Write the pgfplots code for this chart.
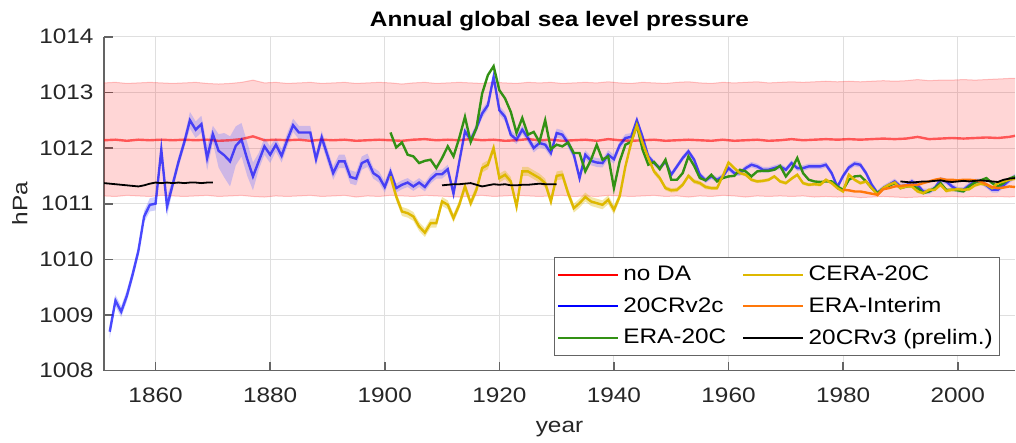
\documentclass[border=0pt]{standalone}
\usepackage{fontspec}
\setmainfont{Liberation Sans}[FakeStretch=1.16]
\usepackage{pgfplots}
\usepackage{pgfplotstable}
\pgfplotsset{compat=1.18}
\usepgfplotslibrary{fillbetween}
\newcommand{\fs}{\fontsize{10.5}{12.6}\selectfont}
\definecolor{axgray}{RGB}{100,100,100}
\definecolor{txtgray}{RGB}{38,38,38}
\definecolor{gridgray}{RGB}{223,223,223}
\definecolor{cgreen}{RGB}{50,145,20}
\definecolor{cyellow}{RGB}{222,184,0}
\definecolor{corange}{RGB}{255,120,10}

% no DA: mean and band
\pgfplotstableread{
year mean lo hi
1851 1012.14 1011.14 1013.17
1853 1012.15 1011.13 1013.18
1855 1012.13 1011.15 1013.16
1857 1012.15 1011.14 1013.17
1859 1012.14 1011.13 1013.18
1861 1012.15 1011.15 1013.17
1863 1012.14 1011.14 1013.16
1865 1012.15 1011.13 1013.17
1867 1012.14 1011.14 1013.18
1869 1012.15 1011.15 1013.16
1871 1012.13 1011.13 1013.15
1873 1012.14 1011.14 1013.16
1875 1012.16 1011.15 1013.18
1877 1012.21 1011.13 1013.22
1879 1012.14 1011.12 1013.17
1881 1012.15 1011.14 1013.18
1883 1012.14 1011.13 1013.16
1885 1012.15 1011.14 1013.17
1887 1012.13 1011.15 1013.18
1889 1012.15 1011.13 1013.16
1891 1012.14 1011.14 1013.17
1893 1012.15 1011.15 1013.18
1895 1012.13 1011.12 1013.16
1897 1012.14 1011.14 1013.17
1899 1012.15 1011.13 1013.18
1901 1012.14 1011.15 1013.17
1903 1012.13 1011.14 1013.15
1905 1012.15 1011.13 1013.17
1907 1012.16 1011.15 1013.18
1909 1012.14 1011.14 1013.16
1911 1012.15 1011.13 1013.17
1913 1012.14 1011.12 1013.18
1915 1012.16 1011.14 1013.17
1917 1012.14 1011.15 1013.16
1919 1012.15 1011.13 1013.18
1921 1012.13 1011.14 1013.17
1923 1012.14 1011.15 1013.16
1925 1012.16 1011.14 1013.18
1927 1012.14 1011.13 1013.17
1929 1012.15 1011.14 1013.18
1931 1012.13 1011.15 1013.16
1933 1012.14 1011.13 1013.17
1935 1012.15 1011.14 1013.18
1937 1012.13 1011.13 1013.17
1939 1012.16 1011.15 1013.19
1941 1012.14 1011.14 1013.17
1943 1012.13 1011.13 1013.16
1945 1012.14 1011.14 1013.18
1947 1012.15 1011.15 1013.17
1949 1012.13 1011.13 1013.16
1951 1012.14 1011.14 1013.18
1953 1012.15 1011.12 1013.19
1955 1012.14 1011.14 1013.17
1957 1012.13 1011.13 1013.16
1959 1012.15 1011.15 1013.18
1961 1012.13 1011.14 1013.17
1963 1012.14 1011.12 1013.18
1965 1012.15 1011.14 1013.19
1967 1012.13 1011.13 1013.17
1969 1012.14 1011.14 1013.18
1971 1012.16 1011.13 1013.19
1973 1012.14 1011.14 1013.18
1975 1012.15 1011.12 1013.19
1977 1012.16 1011.13 1013.20
1979 1012.15 1011.12 1013.19
1981 1012.16 1011.13 1013.20
1983 1012.15 1011.11 1013.19
1985 1012.16 1011.12 1013.20
1987 1012.17 1011.13 1013.21
1989 1012.16 1011.12 1013.20
1991 1012.17 1011.11 1013.21
1993 1012.20 1011.12 1013.23
1995 1012.16 1011.13 1013.21
1997 1012.17 1011.12 1013.22
1999 1012.18 1011.13 1013.22
2001 1012.17 1011.12 1013.23
2003 1012.18 1011.13 1013.22
2005 1012.19 1011.12 1013.23
2007 1012.18 1011.13 1013.24
2009 1012.20 1011.12 1013.25
2010 1012.22 1011.13 1013.25
}\tnoda

% 20CRv2c: value and ensemble spread
\pgfplotstableread{
year v s
1852 1008.70 0.12
1853 1009.26 0.10
1854 1009.06 0.10
1855 1009.35 0.10
1856 1009.73 0.10
1857 1010.15 0.10
1858 1010.77 0.10
1859 1010.98 0.12
1860 1011.00 0.12
1861 1011.97 0.20
1862 1010.95 0.18
1863 1011.35 0.10
1864 1011.75 0.10
1865 1012.10 0.10
1866 1012.50 0.15
1867 1012.33 0.15
1868 1012.43 0.15
1869 1011.82 0.22
1870 1012.25 0.15
1871 1011.95 0.30
1872 1011.87 0.40
1873 1011.76 0.45
1874 1012.04 0.35
1875 1012.15 0.30
1876 1011.80 0.30
1877 1011.49 0.25
1878 1011.76 0.15
1879 1012.03 0.15
1880 1011.88 0.15
1881 1012.06 0.12
1882 1011.86 0.12
1883 1012.15 0.12
1884 1012.41 0.12
1885 1012.28 0.12
1886 1012.28 0.12
1887 1012.28 0.12
1888 1011.80 0.12
1889 1012.19 0.12
1890 1011.87 0.12
1891 1011.55 0.12
1892 1011.76 0.12
1893 1011.76 0.12
1894 1011.48 0.12
1895 1011.45 0.12
1896 1011.73 0.12
1897 1011.78 0.12
1898 1011.55 0.10
1899 1011.48 0.10
1900 1011.30 0.10
1901 1011.57 0.10
1902 1011.28 0.08
1903 1011.34 0.08
1904 1011.38 0.08
1905 1011.31 0.08
1906 1011.38 0.08
1907 1011.30 0.08
1908 1011.44 0.08
1909 1011.53 0.08
1910 1011.53 0.08
1911 1011.62 0.08
1912 1011.18 0.08
1913 1011.75 0.08
1914 1012.30 0.08
1915 1012.15 0.08
1916 1012.36 0.08
1917 1012.62 0.08
1918 1012.77 0.08
1919 1013.28 0.08
1920 1012.68 0.08
1921 1012.56 0.08
1922 1012.24 0.08
1923 1012.15 0.08
1924 1012.33 0.08
1925 1012.18 0.08
1926 1012.00 0.08
1927 1012.09 0.08
1928 1012.06 0.08
1929 1011.91 0.08
1930 1012.27 0.08
1931 1012.24 0.08
1932 1012.09 0.08
1933 1011.88 0.08
1934 1011.46 0.08
1935 1011.88 0.08
1936 1011.77 0.08
1937 1011.74 0.08
1938 1011.73 0.08
1939 1011.88 0.08
1940 1011.80 0.08
1941 1012.05 0.07
1942 1012.18 0.07
1943 1012.20 0.07
1944 1012.50 0.07
1945 1012.20 0.06
1946 1011.85 0.06
1947 1011.73 0.05
1948 1011.64 0.05
1949 1011.76 0.05
1950 1011.52 0.05
1951 1011.67 0.05
1952 1011.82 0.05
1953 1011.94 0.05
1954 1011.79 0.05
1955 1011.52 0.05
1956 1011.42 0.05
1957 1011.49 0.05
1958 1011.43 0.05
1959 1011.49 0.05
1960 1011.64 0.05
1961 1011.55 0.05
1962 1011.55 0.05
1963 1011.64 0.05
1964 1011.70 0.05
1965 1011.67 0.05
1966 1011.61 0.05
1967 1011.61 0.05
1968 1011.64 0.05
1969 1011.67 0.05
1970 1011.61 0.05
1971 1011.73 0.05
1972 1011.64 0.05
1973 1011.64 0.05
1974 1011.67 0.05
1975 1011.67 0.05
1976 1011.67 0.05
1977 1011.70 0.05
1978 1011.55 0.05
1979 1011.30 0.05
1980 1011.50 0.05
1981 1011.65 0.05
1982 1011.72 0.05
1983 1011.70 0.05
1984 1011.55 0.05
1985 1011.34 0.05
1986 1011.19 0.05
1987 1011.28 0.05
1988 1011.34 0.05
1989 1011.40 0.05
1990 1011.31 0.05
1991 1011.33 0.05
1992 1011.40 0.05
1993 1011.33 0.05
1994 1011.22 0.05
1995 1011.22 0.05
1996 1011.28 0.05
1997 1011.43 0.05
1998 1011.40 0.05
1999 1011.31 0.05
2000 1011.25 0.05
2001 1011.25 0.05
2002 1011.33 0.05
2003 1011.40 0.05
2004 1011.40 0.05
2005 1011.33 0.05
2006 1011.25 0.05
2007 1011.25 0.05
2008 1011.33 0.05
2009 1011.42 0.05
2010 1011.49 0.05
}\tcrv

% ERA-20C
\pgfplotstableread{
year v
1901 1012.28
1902 1012.01
1903 1012.10
1904 1011.88
1905 1011.85
1906 1011.73
1907 1011.77
1908 1011.79
1909 1011.64
1910 1011.82
1911 1012.03
1912 1011.85
1913 1012.18
1914 1012.56
1915 1012.11
1916 1012.36
1917 1012.98
1918 1013.31
1919 1013.47
1920 1013.04
1921 1012.89
1922 1012.65
1923 1012.27
1924 1012.54
1925 1012.24
1926 1012.29
1927 1012.11
1928 1012.50
1929 1011.98
1930 1012.06
1931 1012.03
1932 1012.10
1933 1011.91
1934 1011.91
1935 1011.58
1936 1011.79
1937 1012.06
1938 1011.79
1939 1011.85
1940 1011.28
1941 1011.76
1942 1012.06
1943 1012.11
1944 1012.41
1945 1011.97
1946 1011.70
1947 1011.75
1948 1011.62
1949 1011.79
1950 1011.43
1951 1011.43
1952 1011.55
1953 1011.85
1954 1011.68
1955 1011.46
1956 1011.42
1957 1011.52
1958 1011.40
1959 1011.46
1960 1011.49
1961 1011.50
1962 1011.61
1963 1011.58
1964 1011.49
1965 1011.58
1966 1011.59
1967 1011.59
1968 1011.61
1969 1011.68
1970 1011.49
1971 1011.62
1972 1011.82
1973 1011.55
1974 1011.43
1975 1011.40
1976 1011.39
1977 1011.40
1978 1011.40
1979 1011.31
1980 1011.25
1981 1011.43
1982 1011.49
1983 1011.50
1984 1011.40
1985 1011.28
1986 1011.19
1987 1011.28
1988 1011.32
1989 1011.37
1990 1011.28
1991 1011.31
1992 1011.32
1993 1011.28
1994 1011.19
1995 1011.22
1996 1011.28
1997 1011.37
1998 1011.25
1999 1011.25
2000 1011.24
2001 1011.22
2002 1011.31
2003 1011.38
2004 1011.42
2005 1011.46
2006 1011.37
2007 1011.31
2008 1011.37
2009 1011.45
2010 1011.49
}\tera

% CERA-20C: value and spread
\pgfplotstableread{
year v s
1901 1011.49 0.08
1902 1011.13 0.08
1903 1010.86 0.08
1904 1010.83 0.08
1905 1010.77 0.08
1906 1010.59 0.08
1907 1010.48 0.08
1908 1010.65 0.08
1909 1010.65 0.08
1910 1011.04 0.08
1911 1010.98 0.08
1912 1010.74 0.08
1913 1010.98 0.08
1914 1011.31 0.08
1915 1011.01 0.08
1916 1011.25 0.08
1917 1011.64 0.08
1918 1011.70 0.08
1919 1012.00 0.08
1920 1011.46 0.08
1921 1011.52 0.08
1922 1011.40 0.08
1923 1010.95 0.08
1924 1011.58 0.08
1925 1011.58 0.08
1926 1011.52 0.08
1927 1011.46 0.08
1928 1011.37 0.08
1929 1011.04 0.08
1930 1011.50 0.08
1931 1011.52 0.08
1932 1011.19 0.08
1933 1010.92 0.08
1934 1011.01 0.08
1935 1011.12 0.08
1936 1011.04 0.08
1937 1011.01 0.08
1938 1010.98 0.08
1939 1011.07 0.08
1940 1010.89 0.08
1941 1011.13 0.07
1942 1011.67 0.06
1943 1012.09 0.05
1944 1012.41 0.05
1945 1012.09 0.05
1946 1011.82 0.05
1947 1011.58 0.05
1948 1011.46 0.05
1949 1011.28 0.04
1950 1011.24 0.04
1951 1011.25 0.04
1952 1011.34 0.04
1953 1011.50 0.04
1954 1011.40 0.04
1955 1011.37 0.04
1956 1011.30 0.04
1957 1011.28 0.03
1958 1011.28 0.03
1959 1011.50 0.03
1960 1011.74 0.03
1961 1011.64 0.03
1962 1011.55 0.03
1963 1011.52 0.03
1964 1011.43 0.03
1965 1011.40 0.03
1966 1011.41 0.03
1967 1011.43 0.03
1968 1011.49 0.03
1969 1011.40 0.03
1970 1011.37 0.03
1971 1011.45 0.03
1972 1011.52 0.03
1973 1011.37 0.03
1974 1011.34 0.03
1975 1011.35 0.03
1976 1011.34 0.03
1977 1011.43 0.03
1978 1011.37 0.03
1979 1011.28 0.03
1980 1011.22 0.03
1981 1011.52 0.03
1982 1011.43 0.03
1983 1011.37 0.03
1984 1011.40 0.03
1985 1011.28 0.03
1986 1011.16 0.03
1987 1011.28 0.03
1988 1011.34 0.03
1989 1011.38 0.03
1990 1011.28 0.03
1991 1011.31 0.03
1992 1011.31 0.03
1993 1011.22 0.03
1994 1011.19 0.03
1995 1011.25 0.03
1996 1011.25 0.03
1997 1011.34 0.03
1998 1011.23 0.03
1999 1011.25 0.03
2000 1011.26 0.03
2001 1011.25 0.03
2002 1011.26 0.03
2003 1011.33 0.03
2004 1011.36 0.03
2005 1011.34 0.03
2006 1011.28 0.03
2007 1011.37 0.03
2008 1011.40 0.03
2009 1011.43 0.03
2010 1011.45 0.03
}\tcera

% ERA-Interim
\pgfplotstableread{
year v
1980 1011.25
1981 1011.24
1982 1011.22
1983 1011.22
1984 1011.20
1985 1011.18
1986 1011.16
1987 1011.26
1988 1011.28
1989 1011.31
1990 1011.32
1991 1011.33
1992 1011.34
1993 1011.34
1994 1011.37
1995 1011.40
1996 1011.43
1997 1011.45
1998 1011.43
1999 1011.43
2000 1011.42
2001 1011.43
2002 1011.43
2003 1011.42
2004 1011.40
2005 1011.35
2006 1011.30
2007 1011.28
2008 1011.29
2009 1011.31
2010 1011.30
}\tei

% 20CRv3 (prelim.), three streams
\pgfplotstableread{
year v
1851 1011.37
1852 1011.36
1853 1011.35
1854 1011.34
1855 1011.33
1856 1011.32
1857 1011.31
1858 1011.33
1859 1011.36
1860 1011.38
1861 1011.37
1862 1011.38
1863 1011.37
1864 1011.38
1865 1011.37
1866 1011.38
1867 1011.38
1868 1011.37
1869 1011.38
1870 1011.38
}\tva
\pgfplotstableread{
year v
1910 1011.33
1911 1011.34
1912 1011.35
1913 1011.35
1914 1011.36
1915 1011.37
1916 1011.34
1917 1011.31
1918 1011.33
1919 1011.35
1920 1011.34
1921 1011.35
1922 1011.33
1923 1011.33
1924 1011.34
1925 1011.34
1926 1011.35
1927 1011.36
1928 1011.35
1929 1011.35
1930 1011.35
}\tvb
\pgfplotstableread{
year v
1990 1011.40
1991 1011.39
1992 1011.38
1993 1011.39
1994 1011.40
1995 1011.40
1996 1011.41
1997 1011.42
1998 1011.40
1999 1011.39
2000 1011.40
2001 1011.41
2002 1011.40
2003 1011.41
2004 1011.42
2005 1011.41
2006 1011.40
2007 1011.39
2008 1011.43
2009 1011.45
2010 1011.46
}\tvc

\begin{document}
\begin{tikzpicture}
\begin{axis}[
  at={(0,0)}, anchor=south west,
  scale only axis,
  width=455.5pt, height=167pt,
  xmin=1851, xmax=2010,
  ymin=1008, ymax=1014,
  xtick={1860,1880,...,2000},
  ytick={1008,1009,...,1014},
  /pgf/number format/1000 sep={},
  /pgf/number format/assume math mode=true,
  axis lines*=left,
  axis line style={axgray, line width=0.8pt},
  tick align=inside,
  major tick length=4.5pt,
  major tick style={axgray, line width=0.8pt},
  grid=major,
  major grid style={gridgray, line width=0.5pt},
  tick label style={font=\fs, text=txtgray},
  xticklabel style={yshift=-5.1pt},
  yticklabel style={xshift=-1.7pt},
  xlabel={year},
  ylabel={hPa},
  label style={font=\fs, text=txtgray},
  xlabel style={at={(axis description cs:0.5,0)}, anchor=base, yshift=-30.8pt},
  ylabel style={at={(axis description cs:0,0.5)}, anchor=south, inner sep=0pt, yshift=38pt},
  title={Annual global sea level pressure},
  title style={font=\bfseries\fs, at={(axis description cs:0.5,1)}, anchor=base, yshift=-1pt},
  legend columns=3,
  transpose legend,
  legend cell align=left,
  legend style={font=\fs, at={(axis description cs:0.9835,0.044)}, anchor=south east,
    draw=axgray, line width=0.6pt, fill=white, inner ysep=2.2pt, inner xsep=1.3pt,
    row sep=2.7pt, /tikz/column 2/.style={column sep=6pt}},
  legend image code/.code={\draw[#1, draw opacity=1, line width=1.2pt] (0pt,0pt) -- (30pt,0pt);},
]
% no DA band and mean
\addplot[name path=nlo, red, draw opacity=0.22, line width=0.5pt, forget plot] table[x=year, y=lo] {\tnoda};
\addplot[name path=nhi, red, draw opacity=0.22, line width=0.5pt, forget plot] table[x=year, y=hi] {\tnoda};
\addplot[red, fill opacity=0.16, draw=none, forget plot] fill between[of=nlo and nhi];
\addplot[red, draw opacity=0.6, line width=1.2pt] table[x=year, y=mean] {\tnoda};
\addlegendentry{no DA}
% 20CRv2c band and mean
\addplot[name path=blo, draw=none, forget plot] table[x=year, y expr=\thisrow{v}-\thisrow{s}] {\tcrv};
\addplot[name path=bhi, draw=none, forget plot] table[x=year, y expr=\thisrow{v}+\thisrow{s}] {\tcrv};
\addplot[fill={rgb,255:red,140;green,140;blue,250}, fill opacity=0.42, draw=none, forget plot] fill between[of=blo and bhi];
\addplot[blue, draw opacity=0.65, line width=1.2pt] table[x=year, y=v] {\tcrv};
\addlegendentry{20CRv2c}
% ERA-20C
\addplot[cgreen, line width=1.2pt] table[x=year, y=v] {\tera};
\addlegendentry{ERA-20C}
% CERA-20C band and mean
\addplot[name path=clo, draw=none, forget plot] table[x=year, y expr=\thisrow{v}-\thisrow{s}] {\tcera};
\addplot[name path=chi, draw=none, forget plot] table[x=year, y expr=\thisrow{v}+\thisrow{s}] {\tcera};
\addplot[fill=cyellow, fill opacity=0.35, draw=none, forget plot] fill between[of=clo and chi];
\addplot[cyellow, line width=1.2pt] table[x=year, y=v] {\tcera};
\addlegendentry{CERA-20C}
% ERA-Interim
\addplot[corange, line width=1.2pt] table[x=year, y=v] {\tei};
\addlegendentry{ERA-Interim}
% 20CRv3 (prelim.)
\addplot[black, line width=0.9pt, forget plot] table[x=year, y=v] {\tva};
\addplot[black, line width=0.9pt, forget plot] table[x=year, y=v] {\tvb};
\addplot[black, line width=0.9pt] table[x=year, y=v] {\tvc};
\addlegendentry{20CRv3 (prelim.)}
\end{axis}
\pgfresetboundingbox
\path[use as bounding box] (-52pt,-36.15pt) rectangle (456pt,185.35pt);
\end{tikzpicture}
\end{document}
